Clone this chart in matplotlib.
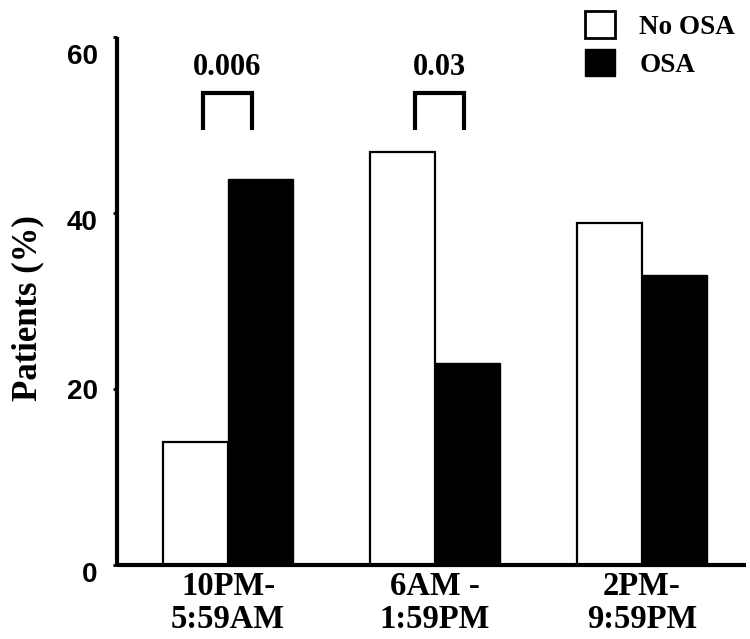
import matplotlib
matplotlib.use("Agg")
import matplotlib.pyplot as plt
import matplotlib.transforms as mtransforms
from matplotlib.patches import Patch
import numpy as np

categories = ["10PM-\n5:59AM", "6AM -\n1:59PM", "2PM-\n9:59PM"]
no_osa = [14.0, 46.9, 38.9]
osa = [43.9, 23.0, 33.0]
series_names = ["No OSA", "OSA"]
yticks = [0, 20, 40, 60]
pvalues = ["0.006", "0.03"]
bracket_left = [-0.12, 0.905]
bracket_right = [0.115, 1.14]
bracket_bottom = 49.4
bracket_top = 53.6
pvalue_y = 56.5

serif = "Liberation Serif"
sans = "Liberation Sans"

fig = plt.figure(figsize=(7.5, 6.39), dpi=100)
ax = fig.add_axes([117/750, 1-565/639, (746-117)/750, (565-37)/639])

x = np.arange(len(categories))
w = 0.314
ax.bar(x - w/2, no_osa, width=w, color="white", edgecolor="black", linewidth=1.6, label=series_names[0])
ax.bar(x + w/2, osa, width=w, color="black", edgecolor="black", linewidth=1.0, label=series_names[1])

ax.set_xlim((117-228)/207, (746-228)/207)
ax.set_ylim(0, 60)

for s in ["top", "right"]:
    ax.spines[s].set_visible(False)
for s in ["left", "bottom"]:
    ax.spines[s].set_linewidth(3)
    ax.spines[s].set_capstyle("butt")

ax.set_yticks(yticks)
ax.set_yticklabels([str(v) for v in yticks], fontfamily=sans, fontweight="bold", fontsize=20)
ax.tick_params(axis="y", length=3, width=2, pad=11)
offsets = {0: -7, 20: 0, 40: -7, 60: -17}
for lab, v in zip(ax.get_yticklabels(), yticks):
    lab.set_transform(lab.get_transform() + mtransforms.ScaledTranslation(0, offsets[v]/100, fig.dpi_scale_trans))

ax.set_xticks(x)
ax.set_xticklabels(categories, fontfamily=serif, fontweight="bold", fontsize=23.5, linespacing=1.1)
ax.tick_params(axis="x", length=0, pad=4)

ax.set_ylabel("Patients (%)", fontfamily=serif, fontweight="bold", fontsize=25)
ax.yaxis.set_label_coords((44-117)/(746-117), (565-308)/528)

for xl, xr, p in zip(bracket_left, bracket_right, pvalues):
    ax.plot([xl, xl, xr, xr], [bracket_bottom, bracket_top, bracket_top, bracket_bottom],
            color="black", linewidth=3, solid_joinstyle="miter", solid_capstyle="butt", clip_on=False)
    ax.text((xl + xr)/2, pvalue_y, p, ha="center", va="center", fontfamily=serif,
            fontweight="bold", fontsize=22)

handles = [Patch(facecolor="white", edgecolor="black", linewidth=2, label=series_names[0]),
           Patch(facecolor="black", edgecolor="black", linewidth=1, label=series_names[1])]
leg = fig.legend(handles=handles, loc="upper left", bbox_to_anchor=(585/750, 1-11/639),
                 frameon=False, borderpad=0, borderaxespad=0, handlelength=1.1, handleheight=1.15,
                 labelspacing=0.35, handletextpad=0.9,
                 prop={"family": serif, "weight": "bold", "size": 19.5})

fig.savefig("out.png", dpi=100)
